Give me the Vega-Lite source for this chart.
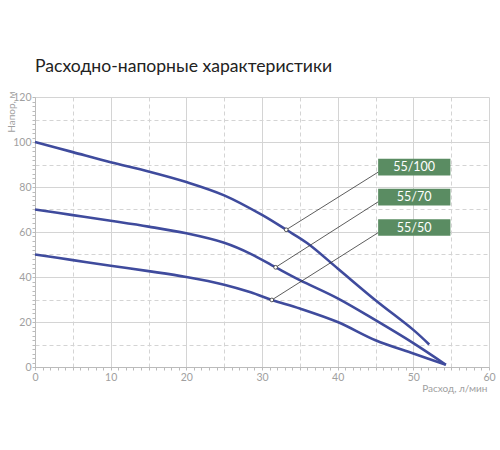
{
  "$schema": "https://vega.github.io/schema/vega-lite/v6.json",
  "autosize": "none",
  "width": 454,
  "height": 270,
  "padding": {"left": 35, "top": 97, "right": 11, "bottom": 83},
  "background": "white",
  "title": {
    "text": "Расходно-напорные характеристики",
    "anchor": "start",
    "frame": "group",
    "offset": 15,
    "font": "Lato",
    "fontSize": 17.6,
    "fontWeight": "normal",
    "color": "#222222"
  },
  "datasets": {
    "curves": [
      {"series": "55/100", "q": 0, "h": 100},
      {"series": "55/100", "q": 5, "h": 95.5},
      {"series": "55/100", "q": 10, "h": 91},
      {"series": "55/100", "q": 15, "h": 86.9},
      {"series": "55/100", "q": 20, "h": 82.2},
      {"series": "55/100", "q": 25, "h": 76.3},
      {"series": "55/100", "q": 30, "h": 67.6},
      {"series": "55/100", "q": 33.2, "h": 61},
      {"series": "55/100", "q": 36, "h": 55},
      {"series": "55/100", "q": 40, "h": 43.8},
      {"series": "55/100", "q": 45, "h": 29.7},
      {"series": "55/100", "q": 50, "h": 16.5},
      {"series": "55/100", "q": 52.1, "h": 10},
      {"series": "55/70", "q": 0, "h": 70},
      {"series": "55/70", "q": 5, "h": 67.5},
      {"series": "55/70", "q": 10, "h": 65},
      {"series": "55/70", "q": 15, "h": 62.4},
      {"series": "55/70", "q": 20, "h": 59.4},
      {"series": "55/70", "q": 25, "h": 55.2},
      {"series": "55/70", "q": 28.5, "h": 50.3},
      {"series": "55/70", "q": 31.8, "h": 44.3},
      {"series": "55/70", "q": 35, "h": 38.6},
      {"series": "55/70", "q": 40, "h": 30.5},
      {"series": "55/70", "q": 45, "h": 20.8},
      {"series": "55/70", "q": 50, "h": 10.6},
      {"series": "55/70", "q": 54.3, "h": 1},
      {"series": "55/50", "q": 0, "h": 50},
      {"series": "55/50", "q": 5, "h": 47.5},
      {"series": "55/50", "q": 10, "h": 45},
      {"series": "55/50", "q": 15, "h": 42.6},
      {"series": "55/50", "q": 20, "h": 40},
      {"series": "55/50", "q": 25, "h": 36.6},
      {"series": "55/50", "q": 28.5, "h": 33.2},
      {"series": "55/50", "q": 31.3, "h": 29.8},
      {"series": "55/50", "q": 35, "h": 26},
      {"series": "55/50", "q": 40, "h": 20},
      {"series": "55/50", "q": 45, "h": 11.9},
      {"series": "55/50", "q": 50, "h": 6},
      {"series": "55/50", "q": 54.3, "h": 1}
    ],
    "labels": [
      {"name": "55/100", "px": 33.2, "py": 61, "lx": 45.35, "ly": 86.6, "bx1": 45.35, "bx2": 54.9, "by1": 85.1, "by2": 92.6, "tx": 50.1, "ty": 88.85},
      {"name": "55/70", "px": 31.8, "py": 44.3, "lx": 45.35, "ly": 73.4, "bx1": 45.35, "bx2": 54.9, "by1": 71.8, "by2": 79.2, "tx": 50.1, "ty": 75.5},
      {"name": "55/50", "px": 31.3, "py": 29.8, "lx": 45.35, "ly": 59.7, "bx1": 45.35, "bx2": 54.9, "by1": 58.3, "by2": 65.7, "tx": 50.1, "ty": 62}
    ]
  },
  "layer": [
    {
      "data": {"name": "curves"},
      "mark": {"type": "line", "interpolate": "catmull-rom", "strokeWidth": 2.6, "color": "#3f4b9d"},
      "encoding": {
        "x": {
          "field": "q",
          "type": "quantitative",
          "scale": {"domain": [0, 60], "nice": false, "zero": false},
          "axis": {
            "values": [0,1,2,3,4,5,6,7,8,9,10,11,12,13,14,15,16,17,18,19,20,21,22,23,24,25,26,27,28,29,30,31,32,33,34,35,36,37,38,39,40,41,42,43,44,45,46,47,48,49,50,51,52,53,54,55,56,57,58,59,60],
            "tickCount": 200,
            "format": "d",
            "labelExpr": "datum.value % 10 === 0 ? datum.label : ''",
            "labelOverlap": false,
            "labelFlush": false,
            "grid": true,
            "gridColor": "#d4d4d4",
            "gridWidth": 1,
            "gridOpacity": {"condition": {"test": "datum.value % 5 === 0", "value": 1}, "value": 0},
            "gridDash": {"condition": {"test": "datum.value % 10 === 0", "value": []}, "value": [4, 3]},
            "tickSize": 3,
            "tickColor": "#bbbbbb",
            "domainColor": "#bbbbbb",
            "labelColor": "#a0a0a0",
            "labelFont": "Lato",
            "labelFontSize": 10.5,
            "labelPadding": 2,
            "title": "Расход, л/мин",
            "titleFont": "Lato",
            "titleFontSize": 10,
            "titleFontWeight": "normal",
            "titleColor": "#a0a0a0",
            "titleAnchor": "end",
            "titleAlign": "right",
            "titleX": 452,
            "titleY": 16,
            "titleBaseline": "top"
          }
        },
        "y": {
          "field": "h",
          "type": "quantitative",
          "scale": {"domain": [0, 120], "nice": false},
          "axis": {
            "values": [0,2,4,6,8,10,12,14,16,18,20,22,24,26,28,30,32,34,36,38,40,42,44,46,48,50,52,54,56,58,60,62,64,66,68,70,72,74,76,78,80,82,84,86,88,90,92,94,96,98,100,102,104,106,108,110,112,114,116,118,120],
            "tickCount": 200,
            "format": "d",
            "labelExpr": "datum.value % 20 === 0 ? datum.label : ''",
            "labelOverlap": false,
            "labelFlush": false,
            "grid": true,
            "gridColor": "#d4d4d4",
            "gridWidth": 1,
            "gridOpacity": {"condition": {"test": "datum.value % 10 === 0", "value": 1}, "value": 0},
            "gridDash": {"condition": {"test": "datum.value % 20 === 0", "value": []}, "value": [4, 3]},
            "tickSize": 3,
            "tickColor": "#bbbbbb",
            "domainColor": "#bbbbbb",
            "labelColor": "#a0a0a0",
            "labelFont": "Lato",
            "labelFontSize": 10.5,
            "labelPadding": 1,
            "title": "Напор, м",
            "titleFont": "Lato",
            "titleFontSize": 10,
            "titleFontWeight": "normal",
            "titleColor": "#a0a0a0",
            "titleAngle": 270,
            "titleAlign": "right",
            "titleBaseline": "middle",
            "titleX": -24,
            "titleY": -6
          }
        },
        "detail": {"field": "series", "type": "nominal"}
      }
    },
    {
      "data": {"name": "labels"},
      "mark": {"type": "rule", "color": "#333333", "strokeWidth": 0.8},
      "encoding": {
        "x": {"field": "px", "type": "quantitative"},
        "y": {"field": "py", "type": "quantitative"},
        "x2": {"field": "lx"},
        "y2": {"field": "ly"}
      }
    },
    {
      "data": {"name": "labels"},
      "mark": {"type": "point", "filled": true, "fill": "white", "stroke": "#333333", "strokeWidth": 0.8, "size": 14, "opacity": 1},
      "encoding": {
        "x": {"field": "px", "type": "quantitative"},
        "y": {"field": "py", "type": "quantitative"}
      }
    },
    {
      "data": {"name": "labels"},
      "mark": {"type": "rect", "color": "#5a8c62"},
      "encoding": {
        "x": {"field": "bx1", "type": "quantitative"},
        "x2": {"field": "bx2"},
        "y": {"field": "by1", "type": "quantitative"},
        "y2": {"field": "by2"}
      }
    },
    {
      "data": {"name": "labels"},
      "mark": {"type": "text", "color": "white", "font": "Lato", "fontSize": 12.5, "align": "center", "baseline": "middle"},
      "encoding": {
        "x": {"field": "tx", "type": "quantitative"},
        "y": {"field": "ty", "type": "quantitative"},
        "text": {"field": "name", "type": "nominal"}
      }
    }
  ],
  "config": {
    "view": {"stroke": null}
  }
}
